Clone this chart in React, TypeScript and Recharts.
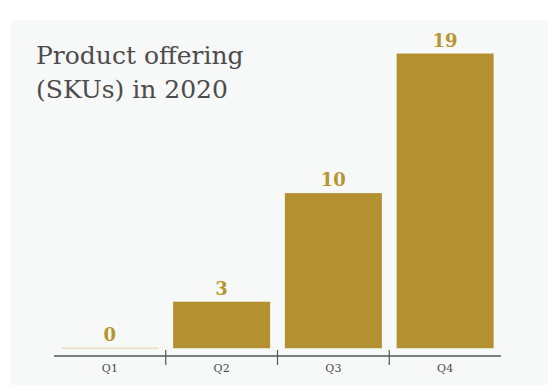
import { BarChart, Bar, XAxis, YAxis, LabelList } from 'recharts'

const quarters = ['Q1', 'Q2', 'Q3', 'Q4']
const skuCounts = [0, 3, 10, 19]

const W = 537
const H = 365
const M = { top: 18, right: 47, bottom: 1, left: 43 }
const GOLD = '#b39131'
const SERIF = '"DejaVu Serif", Georgia, serif'

const data = quarters.map((q, i) => ({ quarter: q, skus: skuCounts[i] }))
const band = (W - M.left - M.right) / quarters.length

function QuarterTick(props: any) {
  const { x, y, payload, index } = props
  return (
    <g>
      {index > 0 && (
        <line x1={x - band / 2} x2={x - band / 2} y1={y - 6} y2={y + 9} stroke="#555" strokeWidth={1.2} />
      )}
      <text x={x} y={y + 16} textAnchor="middle" fontSize={11} fontFamily={SERIF} fill="#4a4a4a">
        {payload.value}
      </text>
    </g>
  )
}

function SkuBar(props: any) {
  const { x, y, width, height } = props
  if (!height) {
    return <line x1={x} x2={x + width} y1={y} y2={y} stroke="#eadfbf" strokeWidth={1.5} />
  }
  return <rect x={x} y={y} width={width} height={height} fill={GOLD} />
}

export default function App() {
  return (
    <div style={{ position: 'relative', width: W, height: H, margin: '12px 0 0 3px', background: '#f6f9f8' }}>
      <div
        style={{
          position: 'absolute',
          left: 25,
          top: 19,
          fontFamily: SERIF,
          fontSize: 25,
          lineHeight: '34px',
          color: '#4d4b4b',
          zIndex: 1,
        }}
      >
        Product offering
        <br />
        (SKUs) in 2020
      </div>
      <BarChart width={W} height={H} data={data} margin={M} barCategoryGap="6.6%">
        <XAxis
          dataKey="quarter"
          height={28}
          tickSize={0}
          tickMargin={0}
          tickLine={false}
          axisLine={{ stroke: '#555', strokeWidth: 1.5 }}
          tick={<QuarterTick />}
          interval={0}
        />
        <YAxis hide domain={[-0.5, 20]} />
        <Bar dataKey="skus" fill={GOLD} shape={<SkuBar />} isAnimationActive={false}>
          <LabelList
            dataKey="skus"
            position="top"
            offset={7}
            fill="#b8962e"
            fontSize={18}
            fontWeight="bold"
            fontFamily={SERIF}
          />
        </Bar>
      </BarChart>
    </div>
  )
}
